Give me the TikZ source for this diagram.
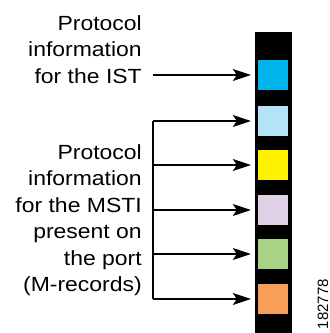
\documentclass[tikz,border=0pt]{standalone}
\usepackage{fontspec}
\setmainfont{Liberation Sans}
\usetikzlibrary{arrows.meta}

\definecolor{istblue}{RGB}{0,180,236}
\definecolor{mlight}{RGB}{180,227,247}
\definecolor{myellow}{RGB}{255,242,0}
\definecolor{mlilac}{RGB}{224,208,230}
\definecolor{mgreen}{RGB}{168,211,132}
\definecolor{morange}{RGB}{247,158,88}

\begin{document}
\begin{tikzpicture}[x=1pt, y=-1pt,
    slot/.style={draw=none, minimum width=30pt, minimum height=30pt, inner sep=0pt},
    infotext/.style={anchor=north east, align=right, inner sep=0pt, xscale=1.12,
        font=\fontsize{20.5}{26.5}\selectfont},
    arr/.style={line width=1.1pt, -{Stealth[length=18pt, width=12pt, inset=4pt]}, shorten >=7pt}]

\useasboundingbox (0,0) rectangle (330,333);

% Record bar
\fill[black] (255,32) rectangle (292,340);

\node[slot, fill=istblue] (s1) at (273,75) {};
\node[slot, fill=mlight] (s2) at (273,121) {};
\node[slot, fill=myellow] (s3) at (273,165) {};
\node[slot, fill=mlilac] (s4) at (273,210) {};
\node[slot, fill=mgreen] (s5) at (273,254) {};
\node[slot, fill=morange] (s6) at (273,299) {};

% Texts
\node[infotext] (ist) at (142,15) {Protocol\\information\\for the IST};
\node[infotext] (msti) at (142,144) {Protocol\\information\\for the MSTI\\present on\\the port\\(M-records)};
\node[rotate=90, anchor=east, inner sep=0pt, font=\fontsize{15}{15}\selectfont] (fig) at (323,279) {182778};

% Arrows
\coordinate (trunk) at (153,0);
\draw[arr] (trunk |- s1) -- (s1.west);
\draw[line width=1.1pt] (trunk |- s2) -- (trunk |- s6);
\foreach \i in {2,...,6}
    \draw[arr] (trunk |- s\i) -- (s\i.west);

\end{tikzpicture}
\end{document}
